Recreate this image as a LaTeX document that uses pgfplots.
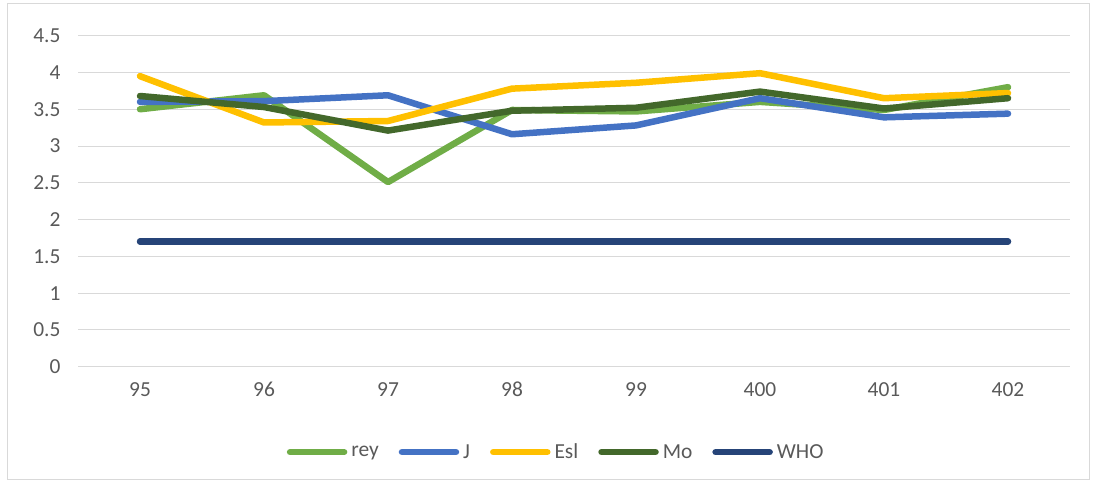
\documentclass[border=0pt]{standalone}
\usepackage{pgfplots}
\pgfplotsset{compat=1.18}
\usepackage{fontspec}
\setmainfont{Carlito}
\definecolor{cRey}{HTML}{70AD47}
\definecolor{cJ}{HTML}{4472C4}
\definecolor{cEsl}{HTML}{FFC000}
\definecolor{cMo}{HTML}{43682B}
\definecolor{cWHO}{HTML}{264478}
\definecolor{txt}{HTML}{595959}
\definecolor{gridc}{HTML}{D9D9D9}
\pgfplotstableread{
x rey J Esl Mo WHO
0 3.50 3.60 3.95 3.68 1.7
1 3.69 3.61 3.32 3.53 1.7
2 2.51 3.69 3.34 3.21 1.7
3 3.49 3.16 3.78 3.48 1.7
4 3.47 3.28 3.86 3.52 1.7
5 3.60 3.65 3.99 3.74 1.7
6 3.49 3.39 3.65 3.51 1.7
7 3.80 3.44 3.72 3.65 1.7
}\data
\begin{document}
\begin{tikzpicture}[x=1bp,y=1bp]
\path[use as bounding box] (0,0) rectangle (1094,486);
\draw[gridc, line width=1bp] (7.5,6) rectangle (1089,482);
\begin{axis}[
  at={(78bp,119.3bp)}, anchor=south west,
  width=992bp, height=331bp, scale only axis,
  xmin=-0.5, xmax=7.5, ymin=0, ymax=4.5,
  xtick={0,...,7}, xticklabels={95,96,97,98,99,400,401,402},
  ytick={0,0.5,...,4.5},
  yticklabel style={/pgf/number format/fixed, /pgf/number format/precision=1},
  /pgf/number format/assume math mode=true,
  axis line style={draw=none},
  major tick length=0pt,
  xmajorgrids=false, ymajorgrids=true,
  major grid style={draw=gridc, line width=1bp},
  tick label style={font=\fontsize{21.5}{25}\selectfont, text=txt},
  xticklabel style={yshift=-12bp},
  yticklabel style={xshift=-14bp},
  legend columns=5,
  legend style={at={(0.482,-0.258)}, anchor=center, draw=none, fill=none,
    font=\fontsize{21.5}{25}\selectfont, text=txt,
    /tikz/every even column/.append style={column sep=18bp},
    /tikz/every odd column/.append style={column sep=2bp}},
  legend cell align=left,
  legend image code/.code={\draw[#1, line cap=round] (0bp,0bp) -- (54bp,0bp);},
  every axis plot/.append style={line width=6.5bp, line join=round, line cap=round, mark=none},
]
\addplot[cRey] table[x=x,y=rey] {\data};
\addlegendentry{rey}
\addplot[cJ] table[x=x,y=J] {\data};
\addlegendentry{J}
\addplot[cEsl] table[x=x,y=Esl] {\data};
\addlegendentry{Esl}
\addplot[cMo] table[x=x,y=Mo] {\data};
\addlegendentry{Mo}
\addplot[cWHO] table[x=x,y=WHO] {\data};
\addlegendentry{WHO}
\end{axis}
\end{tikzpicture}
\end{document}
